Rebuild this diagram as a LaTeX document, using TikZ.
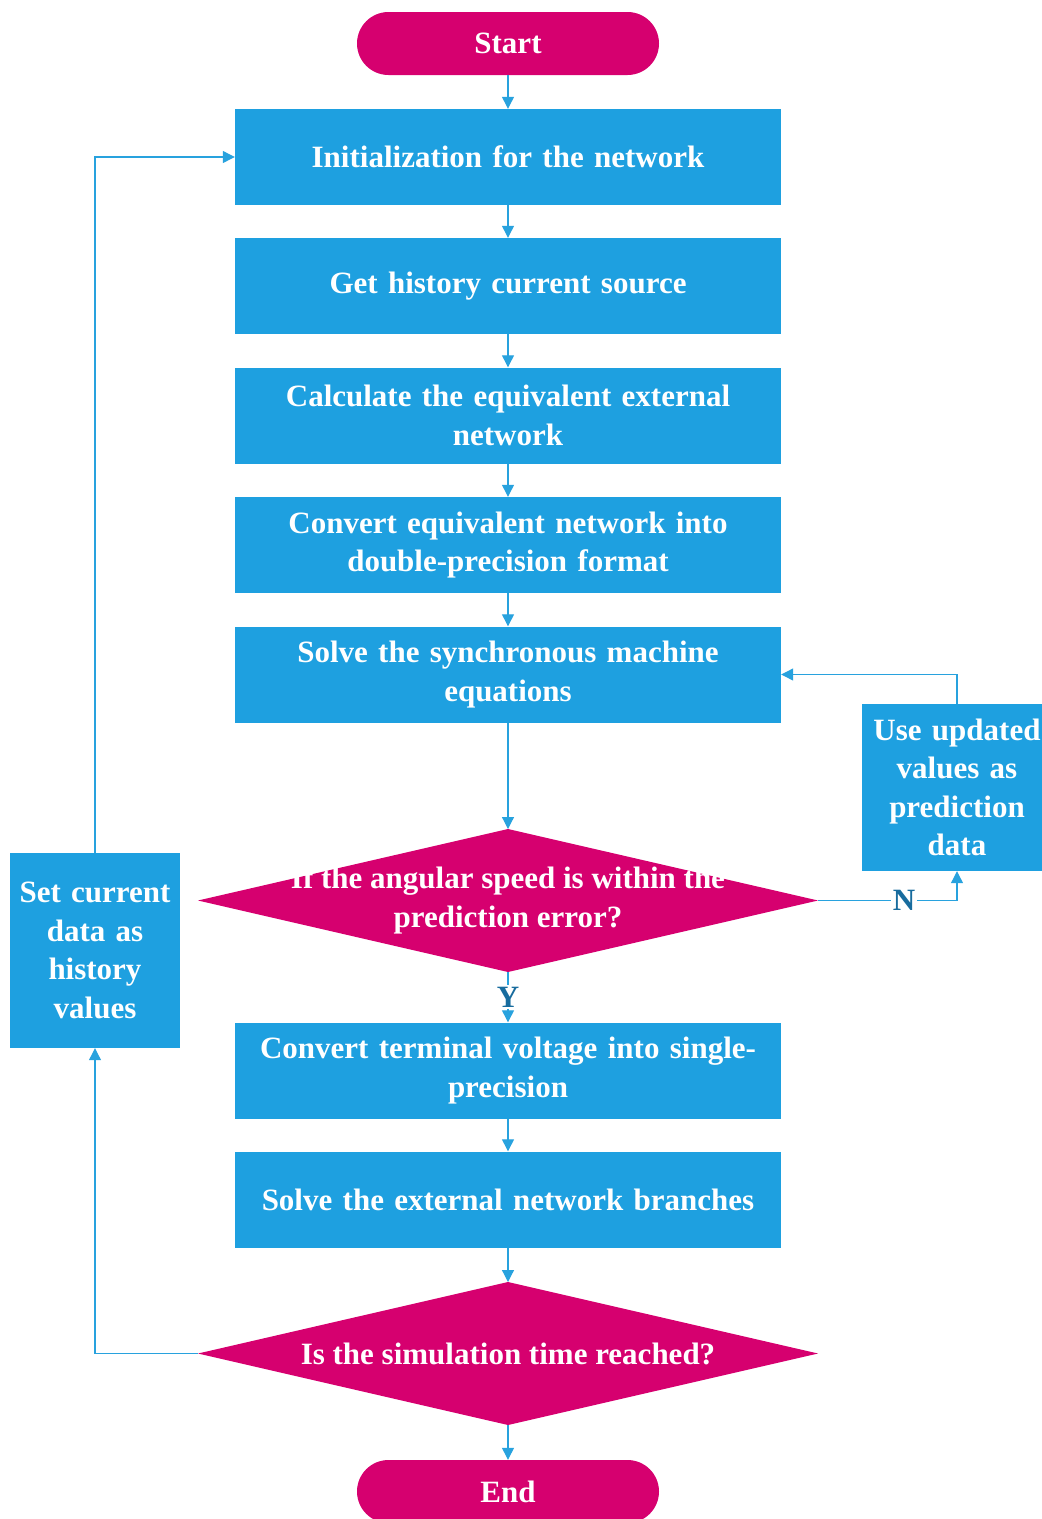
\documentclass[tikz,border=0pt]{standalone}
\usepackage{fontspec}
\setmainfont{Liberation Serif}
\usetikzlibrary{arrows.meta}
\definecolor{boxblue}{RGB}{30,160,224}
\definecolor{linkblue}{RGB}{40,162,222}
\definecolor{termmag}{RGB}{214,0,111}
\definecolor{labteal}{RGB}{24,108,158}
\begin{document}
\begin{tikzpicture}[x=1pt,y=-1pt,
  every node/.style={font=\fontsize{31}{38.5}\selectfont\bfseries, text=white, align=center, inner sep=0pt},
  procbox/.style={fill=boxblue, minimum width=546, minimum height=96, text width=530},
  sidebox/.style={fill=boxblue},
  termbox/.style={fill=termmag, rounded corners=31.5, minimum width=302, minimum height=63},
  link/.style={draw=linkblue, line width=1.2pt, -{Triangle[length=12pt,width=12pt]}},
  plainlink/.style={draw=linkblue, line width=1.2pt},
  yn/.style={text=labteal, fill=white, inner sep=1.5pt}
]
\useasboundingbox (0,0) rectangle (1042,1519);

% terminals
\node[termbox] (start) at (508,43.5) {Start};
\node[termbox] (end) at (508,1491.5) {End};

% process steps
\node[procbox] (b1) at (508,157) {Initialization for the network};
\node[procbox] (b2) at (508,286) {Get history current source};
\node[procbox] (b3) at (508,415.5) {Calculate the equivalent external\\network};
\node[procbox] (b4) at (508,545) {Convert equivalent network into\\double-precision format};
\node[procbox] (b5) at (508,674.5) {Solve the synchronous machine\\equations};
\node[procbox] (b6) at (508,1070.5) {Convert terminal voltage into single-\\precision};
\node[procbox] (b7) at (508,1199.5) {Solve the external network branches};

% side boxes
\node[sidebox, minimum width=190, minimum height=167, text width=184] (upd) at (957,787.5)
  {Use updated\\values as\\prediction\\data};
\node[sidebox, minimum width=170, minimum height=195, text width=164] (hist) at (95,950.5)
  {Set current\\data as\\history\\values};

% decision 1
\coordinate (d1w) at (198,900.5);
\coordinate (d1n) at (508,829);
\coordinate (d1e) at (818,900.5);
\coordinate (d1s) at (508,972);
\fill[termmag] (d1w) -- (d1n) -- (d1e) -- (d1s) -- cycle;
\node (d1) at (508,900.5) {If the angular speed is within the\\prediction error?};

% decision 2
\coordinate (d2w) at (198,1353.5);
\coordinate (d2n) at (508,1282);
\coordinate (d2e) at (818,1353.5);
\coordinate (d2s) at (508,1425);
\fill[termmag] (d2w) -- (d2n) -- (d2e) -- (d2s) -- cycle;
\node (d2) at (508,1353.5) {Is the simulation time reached?};

% branch labels
\node[yn] (ylab) at (508,997) {Y};
\node[yn] (nlab) at (904,900.5) {N};

% main flow
\draw[link] (start) -- (b1);
\draw[link] (b1) -- (b2);
\draw[link] (b2) -- (b3);
\draw[link] (b3) -- (b4);
\draw[link] (b4) -- (b5);
\draw[link] (b5) -- (d1n);
\draw[plainlink] (d1s) -- (ylab);
\draw[link] (ylab) -- (b6);
\draw[link] (b6) -- (b7);
\draw[link] (b7) -- (d2n);
\draw[link] (d2s) -- (end);

% prediction correction loop
\draw[plainlink] (d1e) -- (nlab);
\draw[link] (nlab) -| (upd.south);
\draw[link] (upd.north) |- (b5.east);

% time-step loop
\draw[link] (d2w) -| (hist.south);
\draw[link] (hist.north) |- (b1.west);
\end{tikzpicture}
\end{document}
